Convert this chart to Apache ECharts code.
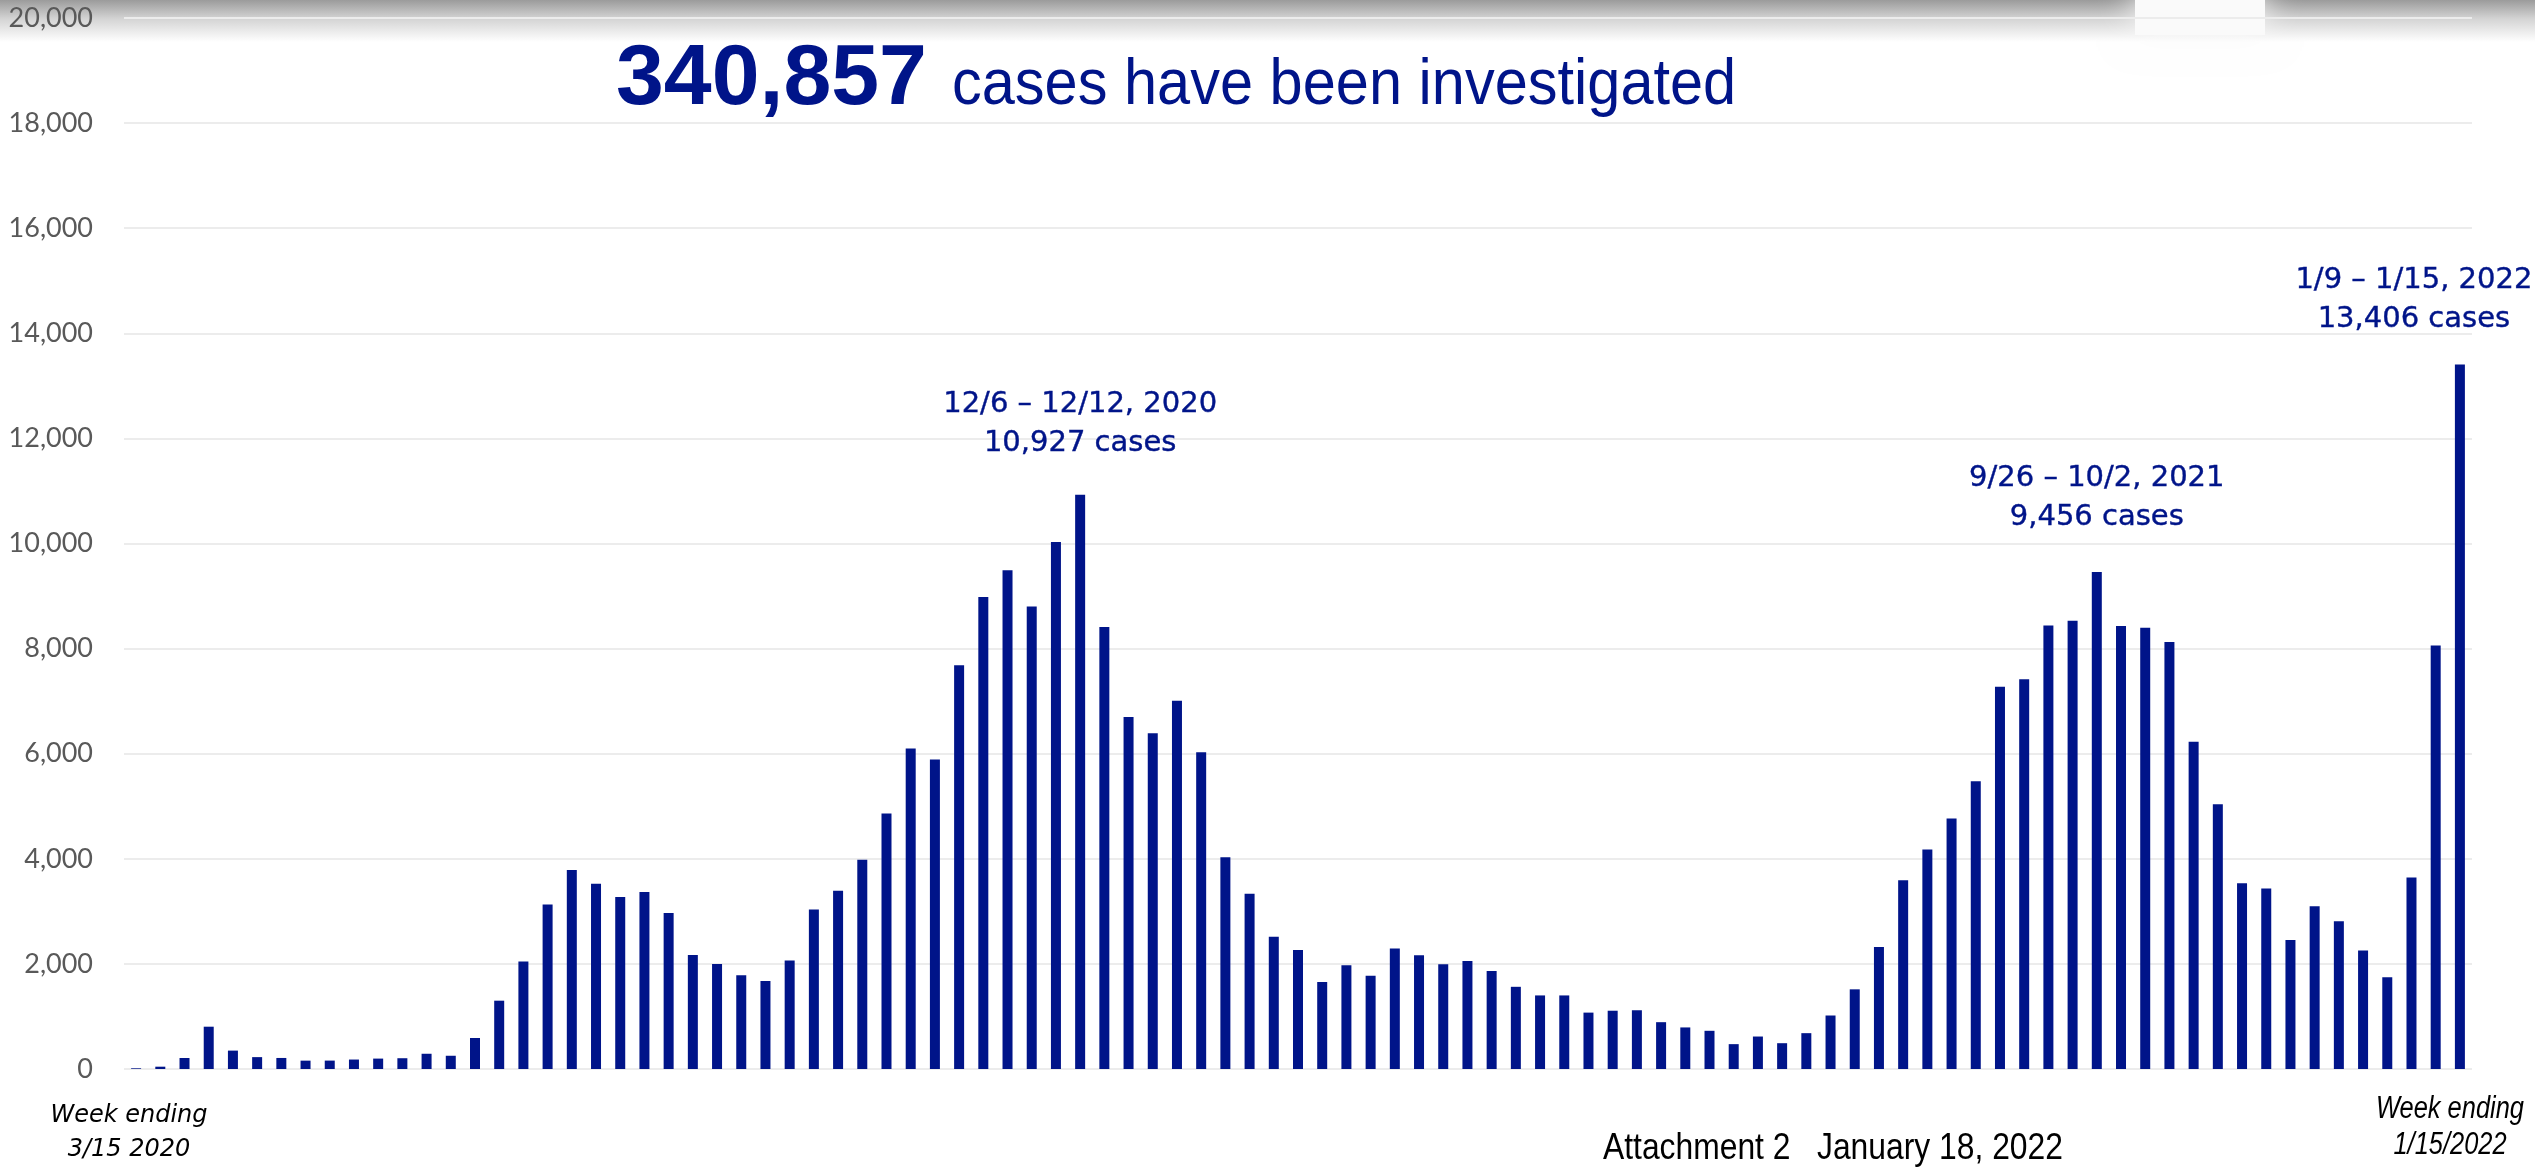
<!DOCTYPE html>
<html>
<head>
<meta charset="utf-8">
<script src="https://cdn.jsdelivr.net/npm/echarts@6/dist/echarts.min.js"></script>
<style>
html,body{margin:0;padding:0;background:#fff;}
#chart{width:2535px;height:1168px;}
</style>
</head>
<body>
<div id="chart"></div>
<script>
// Week-ending dates (Saturdays)
const weeks = [
 '3/14/2020','3/21/2020','3/28/2020','4/4/2020','4/11/2020','4/18/2020','4/25/2020','5/2/2020','5/9/2020','5/16/2020',
 '5/23/2020','5/30/2020','6/6/2020','6/13/2020','6/20/2020','6/27/2020','7/4/2020','7/11/2020','7/18/2020','7/25/2020',
 '8/1/2020','8/8/2020','8/15/2020','8/22/2020','8/29/2020','9/5/2020','9/12/2020','9/19/2020','9/26/2020','10/3/2020',
 '10/10/2020','10/17/2020','10/24/2020','10/31/2020','11/7/2020','11/14/2020','11/21/2020','11/28/2020','12/5/2020','12/12/2020',
 '12/19/2020','12/26/2020','1/2/2021','1/9/2021','1/16/2021','1/23/2021','1/30/2021','2/6/2021','2/13/2021','2/20/2021',
 '2/27/2021','3/6/2021','3/13/2021','3/20/2021','3/27/2021','4/3/2021','4/10/2021','4/17/2021','4/24/2021','5/1/2021',
 '5/8/2021','5/15/2021','5/22/2021','5/29/2021','6/5/2021','6/12/2021','6/19/2021','6/26/2021','7/3/2021','7/10/2021',
 '7/17/2021','7/24/2021','7/31/2021','8/7/2021','8/14/2021','8/21/2021','8/28/2021','9/4/2021','9/11/2021','9/18/2021',
 '9/25/2021','10/2/2021','10/9/2021','10/16/2021','10/23/2021','10/30/2021','11/6/2021','11/13/2021','11/20/2021','11/27/2021',
 '12/4/2021','12/11/2021','12/18/2021','12/25/2021','1/1/2022','1/8/2022','1/15/2022'
];

// Cases investigated per week
const cases = [
 13, 44, 209, 805, 350, 226, 210, 159, 160, 180,
 198, 205, 290, 252, 590, 1300, 2047, 3131, 3785, 3523,
 3275, 3370, 2970, 2170, 2000, 1782, 1673, 2064, 3036, 3391,
 3982, 4864, 6100, 5891, 7682, 8982, 9491, 8800, 10027, 10927,
 8409, 6700, 6391, 7009, 6027, 4030, 3336, 2518, 2264, 1655,
 1973, 1773, 2291, 2164, 1991, 2055, 1864, 1564, 1400, 1400,
 1073, 1109, 1118, 891, 791, 727, 473, 618, 491, 682,
 1018, 1516, 2320, 3590, 4177, 4766, 5474, 7274, 7415, 8441,
 8528, 9456, 8430, 8397, 8124, 6227, 5038, 3533, 3435, 2454,
 3097, 2813, 2257, 1745, 3642, 8059, 13406
];

// Y-axis tick values
const yTicks = [0, 2000, 4000, 6000, 8000, 10000, 12000, 14000, 16000, 18000, 20000];

// Annotated peaks
const peakIndex = [39, 81, 96];
const peakText = [
 '12/6 \u2013 12/12, 2020\n10,927 cases',
 '9/26 \u2013 10/2, 2021\n9,456 cases',
 '1/9 \u2013 1/15, 2022\n13,406 cases'
];

const totalText = '340,857';
const titleText = 'cases have been investigated';
const leftFoot = ['Week ending', '3/15 2020'];
const rightFoot = ['Week ending', '1/15/2022'];
const attachText = 'Attachment 2   January 18, 2022';

const NAVY = '#001489';
const peakDistance = [32, 35, 26];
const peakOffset = [[0, 0], [0, 0], [-46, 0]];

const barData = cases.map((v, i) => {
  const k = peakIndex.indexOf(i);
  if (k < 0) return v;
  return {
    value: v,
    label: {
      show: true,
      position: 'top',
      distance: peakDistance[k],
      offset: peakOffset[k],
      formatter: peakText[k],
      fontFamily: 'DejaVu Sans',
      fontSize: 29,
      lineHeight: 39,
      color: NAVY,
      align: 'center',
      textBorderColor: NAVY,
      textBorderWidth: 0.4
    }
  };
});

const chart = echarts.init(document.getElementById('chart'), null, {renderer: 'canvas'});
chart.setOption({
  animation: false,
  backgroundColor: '#ffffff',
  grid: {left: 124, right: 63, top: 18, bottom: 99, containLabel: false},
  xAxis: {
    type: 'category',
    data: weeks,
    boundaryGap: true,
    axisLine: {show: false},
    axisTick: {show: false},
    axisLabel: {show: false},
    splitLine: {show: false}
  },
  yAxis: {
    type: 'value',
    min: yTicks[0],
    max: yTicks[yTicks.length - 1],
    interval: yTicks[1] - yTicks[0],
    axisLine: {show: false},
    axisTick: {show: false},
    axisLabel: {
      margin: 31,
      fontFamily: 'Lato',
      fontSize: 27,
      color: '#595959',
      formatter: v => v.toLocaleString('en-US')
    },
    splitLine: {show: true, lineStyle: {color: '#ececec', width: 2}}
  },
  series: [{
    type: 'bar',
    data: barData,
    barWidth: 10,
    itemStyle: {color: NAVY},
    label: {show: false}
  }],
  graphic: [
    {
      type: 'rect', z: -100, silent: true,
      shape: {x: 0, y: 0, width: 2535, height: 42},
      style: {
        fill: new echarts.graphic.LinearGradient(0, 0, 0, 1, [
          {offset: 0, color: 'rgba(155,155,155,1)'},
          {offset: 0.45, color: 'rgba(212,212,212,1)'},
          {offset: 1, color: 'rgba(255,255,255,1)'}
        ])
      }
    },
    {
      type: 'rect', z: -99, silent: true,
      shape: {x: 2135, y: -10, width: 130, height: 45},
      style: {fill: '#fafafa', shadowBlur: 35, shadowColor: 'rgba(250,250,250,1)'}
    },
    {
      type: 'text', silent: true, x: 616, y: 80,
      style: {text: totalText, fontFamily: 'Liberation Sans, Arial', fontWeight: 'bold', fontSize: 86,
              fill: NAVY, align: 'left', verticalAlign: 'middle'}
    },
    {
      type: 'text', silent: true, x: 952, y: 86, scaleX: 0.93,
      style: {text: titleText, fontFamily: 'Liberation Sans, Arial', fontSize: 64,
              fill: NAVY, align: 'left', verticalAlign: 'middle'}
    },
    {
      type: 'text', silent: true, x: 129, y: 1116,
      style: {text: leftFoot[0], fontFamily: 'DejaVu Sans', fontStyle: 'italic', fontSize: 24,
              fill: '#000', align: 'center', verticalAlign: 'middle'}
    },
    {
      type: 'text', silent: true, x: 129, y: 1150,
      style: {text: leftFoot[1], fontFamily: 'DejaVu Sans', fontStyle: 'italic', fontSize: 24,
              fill: '#000', align: 'center', verticalAlign: 'middle'}
    },
    {
      type: 'text', silent: true, x: 2450, y: 1109, scaleX: 0.82,
      style: {text: rightFoot[0], fontFamily: 'Liberation Sans, Arial', fontStyle: 'italic', fontSize: 31,
              fill: '#000', align: 'center', verticalAlign: 'middle'}
    },
    {
      type: 'text', silent: true, x: 2450, y: 1145, scaleX: 0.82,
      style: {text: rightFoot[1], fontFamily: 'Liberation Sans, Arial', fontStyle: 'italic', fontSize: 31,
              fill: '#000', align: 'center', verticalAlign: 'middle'}
    },
    {
      type: 'text', silent: true, x: 1603, y: 1149, scaleX: 0.86,
      style: {text: attachText, fontFamily: 'Liberation Sans, Arial', fontSize: 37,
              fill: '#000', align: 'left', verticalAlign: 'middle'}
    }
  ]
});
</script>
</body>
</html>
